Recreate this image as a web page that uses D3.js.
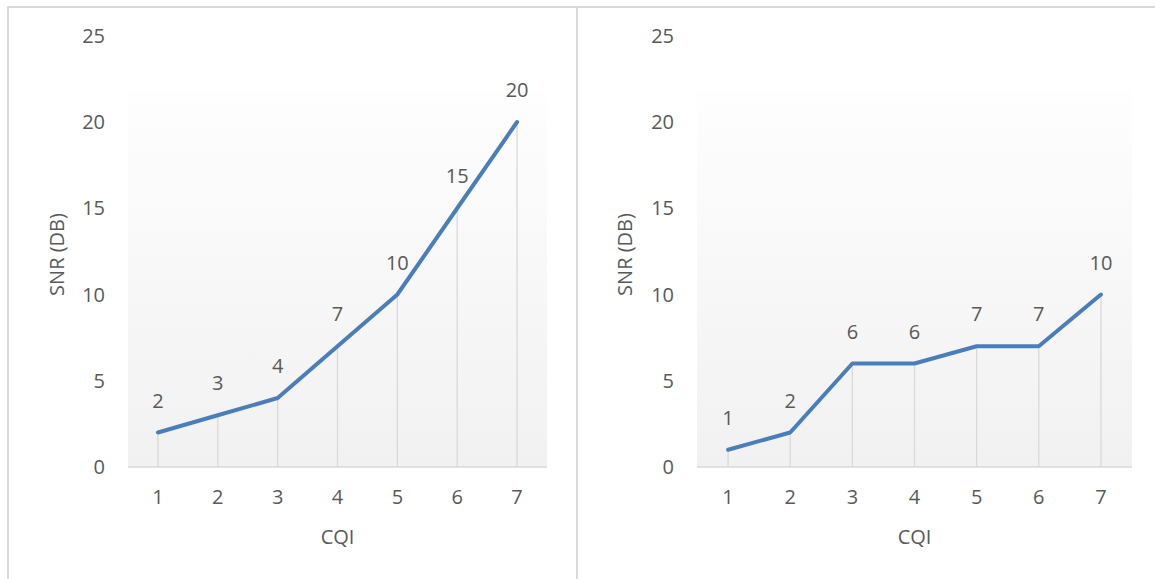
<!DOCTYPE html>
<html>
<head>
<meta charset="utf-8">
<script src="https://cdn.jsdelivr.net/npm/d3@7"></script>
<style>
  html, body { margin: 0; padding: 0; background: #fff; }
  svg { display: block; }
  text { font-family: "Open Sans", sans-serif; fill: #595959; }
</style>
</head>
<body>
<svg id="chart" width="1155" height="579"></svg>
<script>
// CQI categories and SNR values for the two charts
const categories = [1, 2, 3, 4, 5, 6, 7];
const snrLeft = [2, 3, 4, 7, 10, 15, 20];
const snrRight = [1, 2, 6, 6, 7, 7, 10];
const yTicks = [0, 5, 10, 15, 20, 25];
const xTitle = "CQI";
const yTitle = "SNR (DB)";

const svg = d3.select("#chart");

const defs = svg.append("defs");
const grad = defs.append("linearGradient")
  .attr("id", "plotFill").attr("x1", 0).attr("y1", 0).attr("x2", 0).attr("y2", 1);
grad.append("stop").attr("offset", "0%").attr("stop-color", "#fefefe");
grad.append("stop").attr("offset", "100%").attr("stop-color", "#f1f1f1");

// panel frames
const frameColor = "#d9d9d9";
svg.append("line").attr("x1", 8).attr("x2", 1155).attr("y1", 7).attr("y2", 7)
  .attr("stroke", frameColor).attr("stroke-width", 2);
svg.append("line").attr("x1", 8).attr("x2", 8).attr("y1", 6).attr("y2", 579)
  .attr("stroke", frameColor).attr("stroke-width", 2);
svg.append("line").attr("x1", 577).attr("x2", 577).attr("y1", 6).attr("y2", 579)
  .attr("stroke", frameColor).attr("stroke-width", 2);

function drawPanel(opts) {
  const { left, right, values, labelX, yTitleX } = opts;
  const top = 91, bottom = 467;
  const g = svg.append("g");

  const x = d3.scaleBand().domain(categories).range([left, right]).padding(0);
  const y = d3.scaleLinear().domain([0, 25]).range([bottom, bottom - 25 * 17.25]);

  // plot area with soft vertical gradient
  g.append("rect")
    .attr("x", left).attr("y", top)
    .attr("width", right - left).attr("height", bottom - top)
    .attr("fill", "url(#plotFill)");

  const cx = d => x(d) + x.bandwidth() / 2;

  // drop lines from each point to the axis
  g.selectAll(".drop").data(categories).join("line")
    .attr("x1", d => cx(d)).attr("x2", d => cx(d))
    .attr("y1", (d, i) => y(values[i])).attr("y2", bottom)
    .attr("stroke", "#d9d9d9").attr("stroke-width", 1.3);

  // horizontal category axis
  g.append("line").attr("x1", left).attr("x2", right)
    .attr("y1", bottom).attr("y2", bottom)
    .attr("stroke", "#d9d9d9").attr("stroke-width", 1.5);

  // y tick labels
  g.selectAll(".ytick").data(yTicks).join("text")
    .attr("x", labelX).attr("y", d => y(d))
    .attr("dy", "0.35em").attr("text-anchor", "end")
    .attr("font-size", 20).text(d => d);

  // x tick labels
  g.selectAll(".xtick").data(categories).join("text")
    .attr("x", d => cx(d)).attr("y", 497)
    .attr("dy", "0.35em").attr("text-anchor", "middle")
    .attr("font-size", 20).text(d => d);

  // series line
  const line = d3.line().x((d, i) => cx(categories[i])).y(d => y(d));
  g.append("path").datum(values)
    .attr("d", line).attr("fill", "none")
    .attr("stroke", "#4a7ebb").attr("stroke-width", 4)
    .attr("stroke-linejoin", "round").attr("stroke-linecap", "round");

  // data labels
  g.selectAll(".dlabel").data(values).join("text")
    .attr("x", (d, i) => cx(categories[i])).attr("y", d => y(d) - 32)
    .attr("dy", "0.35em").attr("text-anchor", "middle")
    .attr("font-size", 20).text(d => d);

  // axis titles
  g.append("text").attr("x", (left + right) / 2).attr("y", 537)
    .attr("dy", "0.35em").attr("text-anchor", "middle")
    .attr("font-size", 20).text(xTitle);
  g.append("text")
    .attr("transform", `translate(${yTitleX},${(36 + bottom) / 2 + 3}) rotate(-90)`)
    .attr("dy", "0.35em").attr("text-anchor", "middle")
    .attr("font-size", 20).text(yTitle);
}

drawPanel({ left: 128, right: 547, values: snrLeft, labelX: 105, yTitleX: 57 });
drawPanel({ left: 697, right: 1132, values: snrRight, labelX: 674, yTitleX: 625 });
</script>
</body>
</html>
